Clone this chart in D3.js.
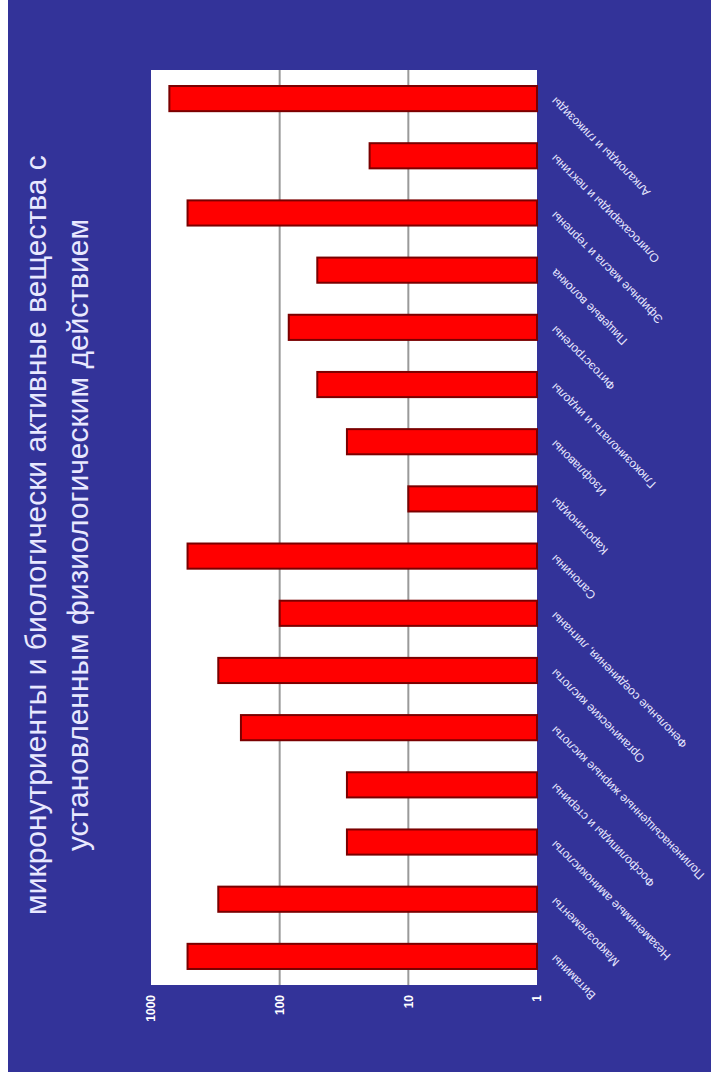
<!DOCTYPE html>
<html>
<head>
<meta charset="utf-8">
<script src="https://cdn.jsdelivr.net/npm/d3@7"></script>
<style>
  body { margin: 0; background: #fff; }
  svg { display: block; }
</style>
</head>
<body>
<div id="chart"></div>
<script>
// slide is drawn in landscape and then turned 90deg to the left
var W = 1086, H = 711;

var titleLines = ["микронутриенты и биологически активные вещества с",
                  "установленным физиологическим действием"];

// categories left to right in the (unrotated) chart
var categories = [
  "Витамины",
  "Макроэлементы",
  "Незаменимые аминокислоты",
  "Фосфолипиды и стерины",
  "Полиненасыщенные жирные кислоты",
  "Органические кислоты",
  "Фенольные соединения, лигнаны",
  "Сапонины",
  "Каротиноиды",
  "Изофлавоны",
  "Глюкозинолаты и индолы",
  "Фитоэстрогены",
  "Пищевые волокна",
  "Эфирные масла и терпены",
  "Олигосахариды и пектины",
  "Алкалоиды и гликозиды"
];
var values = [520, 300, 30, 30, 200, 300, 100, 520, 10, 30, 51, 85, 51, 520, 20, 720];
var tickValues = [1, 10, 100, 1000];

var svg = d3.select("#chart").append("svg")
  .attr("width", 711)
  .attr("height", 1086);

var g = svg.append("g")
  .attr("transform", "translate(0," + W + ") rotate(-90)");

// blue slide background
g.append("rect")
  .attr("x", 14).attr("y", 8)
  .attr("width", W - 14).attr("height", H - 8)
  .style("fill", "#333399");

var x = d3.scaleBand()
  .domain(categories)
  .range([101, 1016])
  .paddingInner(0.56)
  .paddingOuter(0.28);

var y = d3.scaleLog()
  .domain([1, 1000])
  .range([537, 151]);

// plot area
g.append("rect")
  .attr("x", 101).attr("y", 151)
  .attr("width", 1016 - 101).attr("height", 537 - 151)
  .style("fill", "#ffffff");

g.selectAll("line.grid")
  .data([10, 100])
  .enter()
  .append("line")
  .attr("class", "grid")
  .attr("x1", 101).attr("x2", 1016)
  .attr("y1", function (d) { return y(d); })
  .attr("y2", function (d) { return y(d); })
  .style("stroke", "#9a9a9a")
  .style("stroke-width", 2);

g.selectAll("rect.bar")
  .data(values)
  .enter()
  .append("rect")
  .attr("class", "bar")
  .attr("x", function (d, i) { return x(categories[i]); })
  .attr("width", x.bandwidth())
  .attr("y", function (d) { return y(d); })
  .attr("height", function (d) { return y(1) - y(d); })
  .style("fill", "#ff0000")
  .style("stroke", "#7a0000")
  .style("stroke-width", 2);

// value axis
var axis = g.append("g")
  .attr("transform", "translate(91,0)")
  .call(d3.axisLeft(y).tickValues(tickValues).tickSize(0).tickFormat(d3.format("d")));
axis.select(".domain").remove();
axis.selectAll("text")
  .attr("x", 0)
  .style("fill", "#ffffff")
  .style("font-family", "Liberation Sans, Arial, sans-serif")
  .style("font-weight", "bold")
  .style("font-size", "12px");

// category labels, slanted
g.selectAll("text.cat")
  .data(categories)
  .enter()
  .append("text")
  .attr("class", "cat")
  .attr("transform", function (d) {
    return "translate(" + (x(d) + x.bandwidth() / 2 + 2) + ",556) rotate(-45)";
  })
  .attr("text-anchor", "end")
  .style("fill", "#e6e6ff")
  .style("font-family", "Liberation Sans, Arial, sans-serif")
  .style("font-size", "12px")
  .text(function (d) { return d; });

// title
g.selectAll("text.title")
  .data(titleLines)
  .enter()
  .append("text")
  .attr("class", "title")
  .attr("x", 551)
  .attr("y", function (d, i) { return 46 + i * 42; })
  .attr("text-anchor", "middle")
  .style("fill", "#e8e8ff")
  .style("font-family", "Liberation Sans, Arial, sans-serif")
  .style("font-size", "30px")
  .text(function (d) { return d; });
</script>
</body>
</html>
